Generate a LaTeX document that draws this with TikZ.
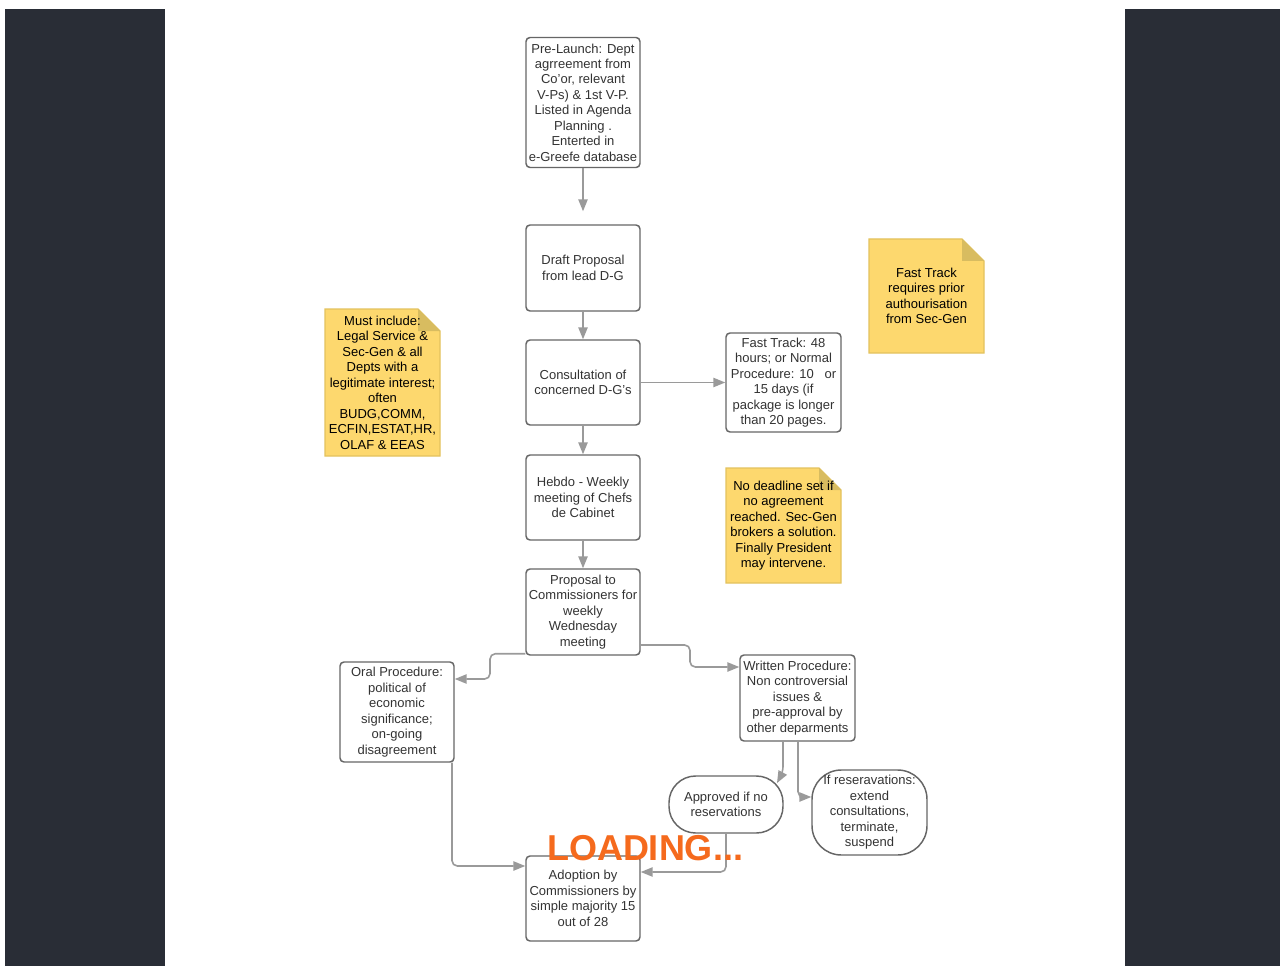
\documentclass[tikz,border=0pt]{standalone}
\usepackage{fontspec}
\setmainfont{Liberation Sans}
\usetikzlibrary{arrows.meta}
\definecolor{panel}{HTML}{292D36}
\definecolor{boxedge}{HTML}{666666}
\definecolor{txt}{HTML}{333333}
\definecolor{linegrey}{HTML}{9A9A9A}
\definecolor{notefill}{HTML}{FDD86E}
\definecolor{noteedge}{HTML}{E3C25E}
\definecolor{foldfill}{HTML}{D8BC60}
\definecolor{loadorange}{HTML}{F56A1D}
\newcommand\boxfont{\fontsize{9.75pt}{11.6pt}\selectfont}
\newcommand\stickynote[5]{%
  \begin{scope}[shift={(#2)}]
    \filldraw[fill=notefill,draw=noteedge,line width=0.9pt]
      (-#3/2,-#4/2) -- (#3/2-22,-#4/2) -- (#3/2,-#4/2+22) -- (#3/2,#4/2) -- (-#3/2,#4/2) -- cycle;
    \fill[foldfill] (#3/2-22,-#4/2) -- (#3/2,-#4/2+22) -- (#3/2-22,-#4/2+22) -- cycle;
  \end{scope}
  \node[notetext] (#1) at (#2) {#5};}
\tikzset{
  box/.style={draw=boxedge, line width=1.1pt, rounded corners=3pt, fill=white,
    text=txt, align=center, inner sep=1pt, minimum width=85.5pt, font=\boxfont},
  notetext/.style={text=black, align=center, inner sep=0pt, font=\boxfont},
  conn/.style={draw=linegrey, line width=1.2pt, rounded corners=4pt,
    -{Triangle[length=9pt,width=7pt]}},
  loading/.style={text=loadorange, font=\fontsize{27pt}{30pt}\selectfont\bfseries, inner sep=0pt}
}
\begin{document}
\begin{tikzpicture}[x=0.75pt,y=-0.75pt]
\useasboundingbox (0,0) rectangle (1284,966);
\fill[white] (0,0) rectangle (1284,966);
\fill[panel] (5,9) rectangle (165,966);
\fill[panel] (1125,9) rectangle (1280,966);

% main column
\node[box, minimum height=97.5pt] (pre) at (583,102.5) {Pre-Launch: Dept\\agrreement from\\Co'or, relevant\\V-Ps) \& 1st V-P.\\Listed in Agenda\\Planning .\\Enterted in\\e-Greefe database};
\node[box, minimum height=64.5pt] (draft) at (583,268) {Draft Proposal\\from lead D-G};
\node[box, minimum height=63.75pt] (consult) at (583,382.5) {Consultation of\\concerned D-G's};
\node[box, minimum height=63.75pt] (hebdo) at (583,497.5) {Hebdo - Weekly\\meeting of Chefs\\de Cabinet};
\node[box, minimum height=64.5pt] (prop) at (583,612) {Proposal to\\Commissioners for\\weekly\\Wednesday\\meeting};
\node[box, minimum width=86.25pt, minimum height=74.25pt] (fast) at (783.5,382.5) {Fast Track: 48\\hours; or Normal\\Procedure: 10\ \ \ or\\15 days (if\\package is longer\\than 20 pages.};
\node[box, minimum height=75pt] (oral) at (397,712) {Oral Procedure:\\political of\\economic\\significance;\\on-going\\disagreement};
\node[box, minimum width=86.25pt, minimum height=64.5pt] (written) at (797.5,698) {Written Procedure:\\Non controversial\\issues \&\\pre-approval by\\other deparments};
\node[box, rounded corners=20pt, minimum height=42.75pt] (approved) at (726,804.5) {Approved if no\\reservations};
\node[box, rounded corners=22pt, minimum width=86.25pt, minimum height=63.75pt, inner sep=0pt] (ifres) at (869.5,812.5) {If reseravations:\\extend\\consultations,\\terminate,\\suspend};
\node[box, minimum height=63.75pt] (adopt) at (583,898.5) {Adoption by\\Commissioners by\\simple majority 15\\out of 28};

% sticky notes
\stickynote{ftnote}{926.5,296}{115}{114}{Fast Track\\requires prior\\authourisation\\from Sec-Gen}
\stickynote{mustnote}{382.5,382.5}{115}{147}{Must include:\\Legal Service \&\\Sec-Gen \& all\\Depts with a\\legitimate interest;\\often\\BUDG,COMM,\\ECFIN,ESTAT,HR,\\OLAF \& EEAS}
\stickynote{dlnote}{783.5,525.5}{115}{115}{No deadline set if\\no agreement\\reached. Sec-Gen\\brokers a solution.\\Finally President\\may intervene.}

% helper coordinates
\coordinate (j1) at (490,679);
\coordinate (j2) at (690,645);
\coordinate (j3) at (690,667);
\coordinate (j4) at (783,772);
\coordinate (j5) at (777,783);
\coordinate (j6) at (798,797);
\coordinate (j7) at (452,866);
\coordinate (j8) at (726,872);

% connectors
\draw[conn, shorten >=9.75pt] (pre) -- (draft);
\draw[conn] (draft) -- (consult);
\draw[conn] (consult) -- (fast);
\draw[conn] (consult) -- (hebdo);
\draw[conn] (hebdo) -- (prop);
\draw[conn] ([yshift=1.5pt]prop.south west) -| (j1) -- (oral.east |- j1);
\draw[conn] (prop.east |- j2) -- (j2) -- (j3) -- (written.west |- j3);
\draw[conn] (written.south -| j4) -- (j4) -- (j5);
\draw[conn] (written.south -| j6) |- (ifres.west |- j6);
\draw[conn] (oral.south -| j7) |- (adopt.west |- j7);
\draw[conn] (approved.south) |- (adopt.east |- j8);

\node[loading] (load) at (645,848) {LOADING...};
\end{tikzpicture}
\end{document}
